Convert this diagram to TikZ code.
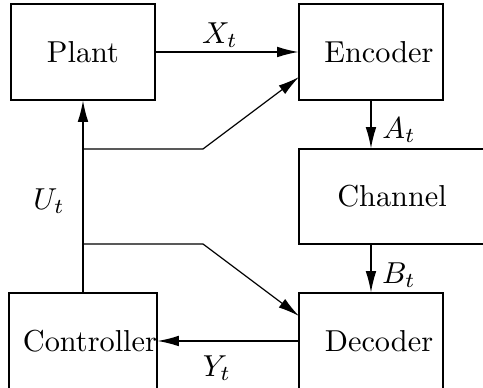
\documentclass[tikz,border=0pt]{standalone}
\usetikzlibrary{arrows.meta}
\begin{document}
\begin{tikzpicture}[x=0.33pt,y=-0.33pt,
  box/.style={draw, line width=0.4pt, inner sep=0pt, minimum width=47.52pt, minimum height=31.68pt},
  arr/.style={-{Latex[length=7pt,width=3.5pt]}, line width=0.4pt},
  lbl/.style={inner sep=0pt}]
\useasboundingbox (0,0) rectangle (483,388);
\clip (0,0) rectangle (483,388);
\node[box] (plant) at (83,52) {Plant};
\node[box] (enc) at (371,52) {\hspace*{5.3pt}Encoder};
\node[box, minimum width=64pt, minimum height=31.35pt] (chan) at (396,196.5) {\hspace*{-2.6pt}Channel};
\node[box] (dec) at (371,341) {\hspace*{5.3pt}Decoder};
\node[box] (ctrl) at (83,341) {\hspace*{4.6pt}Controller};
\coordinate (up) at (83,149);
\coordinate (upk) at (203,149);
\coordinate (dn) at (83,244);
\coordinate (dnk) at (203,244);
\draw[arr] (plant.east) -- (enc.west);
\draw[arr] (ctrl.north) -- (plant.south);
\draw[arr] (up) -- (upk) -- (299,77);
\draw[arr] (dn) -- (dnk) -- (299,316);
\draw[arr] (enc.south) -- (chan.north -| enc.south);
\draw[arr] (chan.south -| dec.north) -- (dec.north);
\draw[arr] (dec.west |- 0,341) -- (ctrl.east |- 0,341);
\node[lbl] (xl) at (220,35) {$X_t$};
\node[lbl] (al) at (399,130) {$A_t$};
\node[lbl] (bl) at (399,275) {$B_t$};
\node[lbl] (yl) at (217,368) {$Y_t$};
\node[lbl] (ul) at (49,201) {$U_t$};
\end{tikzpicture}
\end{document}
